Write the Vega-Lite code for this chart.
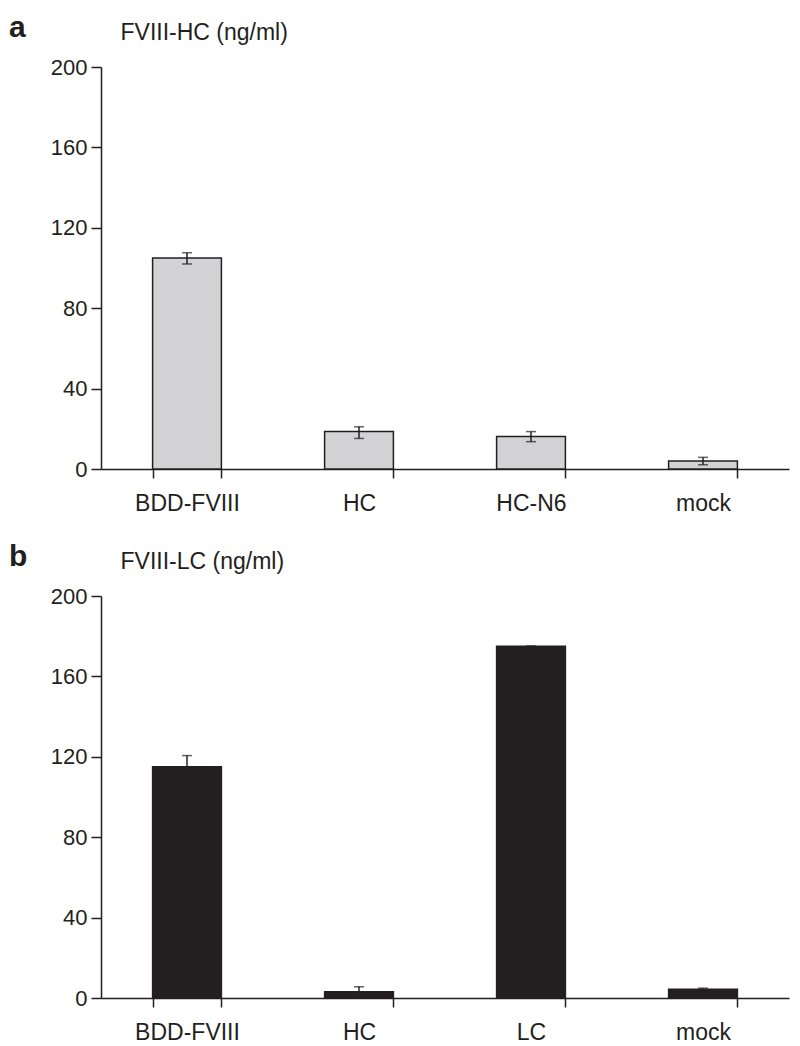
{
  "$schema": "https://vega.github.io/schema/vega-lite/v6.json",
  "background": "white",
  "padding": {"left": 9, "top": 13, "right": 5, "bottom": 2},
  "spacing": 27,
  "config": {
    "view": {"stroke": null},
    "font": "Liberation Sans",
    "axis": {
      "domainColor": "#231f20", "domainWidth": 1.5,
      "tickColor": "#231f20", "tickWidth": 1.5,
      "labelColor": "#231f20", "titleColor": "#231f20",
      "labelFont": "Liberation Sans", "titleFont": "Liberation Sans",
      "grid": false
    },
    "axisX": {"title": null, "labelAngle": 0, "labelFontSize": 23, "tickSize": 9, "labelPadding": 14, "tickBand": "extent"},
    "axisY": {"labelFontSize": 22, "tickSize": 10, "labelPadding": 4, "titleFontSize": 23, "titleFontWeight": "normal", "titleAngle": 0, "titleAlign": "left", "titleBaseline": "alphabetic", "titleX": 19, "titleY": -28},
    "title": {"fontSize": 30, "fontWeight": "bold", "anchor": "start", "frame": "group", "dx": -92, "dy": 26, "offset": 0, "baseline": "alphabetic", "color": "#231f20", "font": "Liberation Sans"}
  },
  "vconcat": [
    {
      "width": 688, "height": 402,
      "title": {"text": "a"},
      "data": {"values": [
        {"cat": "BDD-FVIII", "value": 105, "lo": 102, "hi": 107.6},
        {"cat": "HC", "value": 18.6, "lo": 15.2, "hi": 21.0},
        {"cat": "HC-N6", "value": 16.2, "lo": 13.6, "hi": 18.6},
        {"cat": "mock", "value": 4.0, "lo": 2.1, "hi": 5.8}
      ]},
      "encoding": {
        "x": {"field": "cat", "type": "nominal", "sort": null, "scale": {"paddingInner": 0.6, "paddingOuter": 0.3}}
      },
      "layer": [
        {"mark": {"type": "bar", "fill": "#d3d3d5", "stroke": "#231f20", "strokeWidth": 1.5},
         "encoding": {"y": {"field": "value", "type": "quantitative", "title": "FVIII-HC (ng/ml)", "scale": {"domain": [0, 200], "nice": false}, "axis": {"values": [0, 40, 80, 120, 160, 200]}}}},
        {"mark": {"type": "rule", "color": "#231f20", "strokeWidth": 1.5},
         "encoding": {"y": {"field": "lo", "type": "quantitative", "title": "FVIII-HC (ng/ml)"}, "y2": {"field": "hi"}}},
        {"mark": {"type": "tick", "color": "#231f20", "thickness": 1.5, "size": 10},
         "encoding": {"y": {"field": "lo", "type": "quantitative", "title": "FVIII-HC (ng/ml)"}}},
        {"mark": {"type": "tick", "color": "#231f20", "thickness": 1.5, "size": 10},
         "encoding": {"y": {"field": "hi", "type": "quantitative", "title": "FVIII-HC (ng/ml)"}}}
      ]
    },
    {
      "width": 688, "height": 402,
      "title": {"text": "b"},
      "data": {"values": [
        {"cat": "BDD-FVIII", "value": 115, "lo": 109.4, "hi": 120.6},
        {"cat": "HC", "value": 3.1, "lo": 0.6, "hi": 5.6},
        {"cat": "LC", "value": 175, "lo": 175, "hi": 175},
        {"cat": "mock", "value": 4.4, "lo": 3.9, "hi": 4.9}
      ]},
      "encoding": {
        "x": {"field": "cat", "type": "nominal", "sort": null, "scale": {"paddingInner": 0.6, "paddingOuter": 0.3}}
      },
      "layer": [
        {"mark": {"type": "bar", "fill": "#231f20", "stroke": "#231f20", "strokeWidth": 1.5},
         "encoding": {"y": {"field": "value", "type": "quantitative", "title": "FVIII-LC (ng/ml)", "scale": {"domain": [0, 200], "nice": false}, "axis": {"values": [0, 40, 80, 120, 160, 200]}}}},
        {"mark": {"type": "rule", "color": "#231f20", "strokeWidth": 1.5},
         "encoding": {"y": {"field": "lo", "type": "quantitative", "title": "FVIII-LC (ng/ml)"}, "y2": {"field": "hi"}}},
        {"mark": {"type": "tick", "color": "#231f20", "thickness": 1.5, "size": 10},
         "encoding": {"y": {"field": "lo", "type": "quantitative", "title": "FVIII-LC (ng/ml)"}}},
        {"mark": {"type": "tick", "color": "#231f20", "thickness": 1.5, "size": 10},
         "encoding": {"y": {"field": "hi", "type": "quantitative", "title": "FVIII-LC (ng/ml)"}}}
      ]
    }
  ]
}
